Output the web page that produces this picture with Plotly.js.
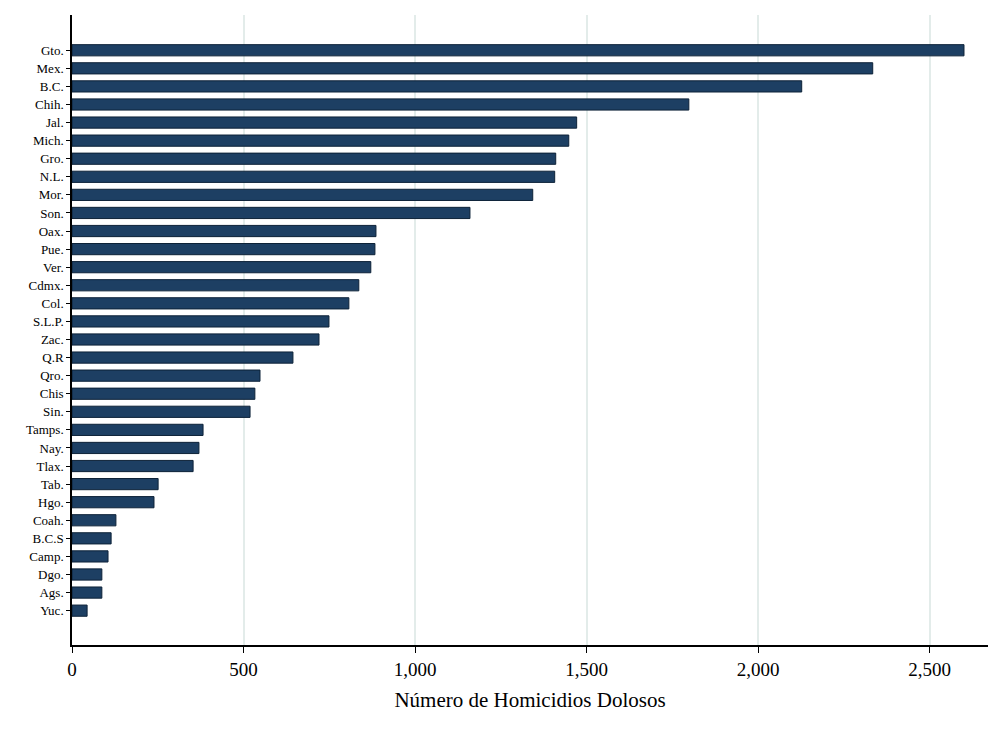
<!DOCTYPE html>
<html><head><meta charset="utf-8">
<script src="https://cdn.plot.ly/plotly-3.0.1.min.js"></script>
<style>body{margin:0;background:#fff}</style></head>
<body><div id="c" style="width:999px;height:735px"></div>
<script>
const states = ["Gto.","Mex.","B.C.","Chih.","Jal.","Mich.","Gro.","N.L.","Mor.","Son.","Oax.","Pue.","Ver.","Cdmx.","Col.","S.L.P.","Zac.","Q.R","Qro.","Chis","Sin.","Tamps.","Nay.","Tlax.","Tab.","Hgo.","Coah.","B.C.S","Camp.","Dgo.","Ags.","Yuc."];
const homicides = [2600,2334,2127,1798,1471,1448,1410,1407,1343,1160,886,883,871,836,807,749,720,644,548,533,519,382,370,353,251,239,128,114,105,87,87,44];
const positions = states.map((s,i)=>i);
Plotly.newPlot('c',[{
  type:'bar',orientation:'h',x:homicides,y:positions,width:0.62,
  marker:{color:'#1d3f63',line:{color:'#0d2238',width:1}},hoverinfo:'none'
}],{
  width:999,height:735,paper_bgcolor:'#fff',plot_bgcolor:'#fff',
  margin:{l:72,r:11,t:15,b:90},
  font:{family:'Liberation Serif, Times New Roman, serif',color:'#000'},
  showlegend:false,
  xaxis:{range:[0,2670],tickvals:[0,500,1000,1500,2000,2500],tickformat:',d',
    showgrid:true,gridcolor:'#e3ecea',gridwidth:1.5,zeroline:false,
    showline:true,linecolor:'#000',linewidth:1.5,ticks:'outside',ticklen:6,tickcolor:'#000',
    tickfont:{size:19},title:{text:'Número de Homicidios Dolosos',font:{size:21},standoff:14}},
  yaxis:{range:[32.9,-1.95],tickvals:positions,ticktext:states,showgrid:false,zeroline:false,
    showline:true,linecolor:'#000',linewidth:1.5,ticks:'outside',ticklen:4,tickcolor:'#000',
    tickfont:{size:13}}
},{displayModeBar:false});
</script></body></html>
